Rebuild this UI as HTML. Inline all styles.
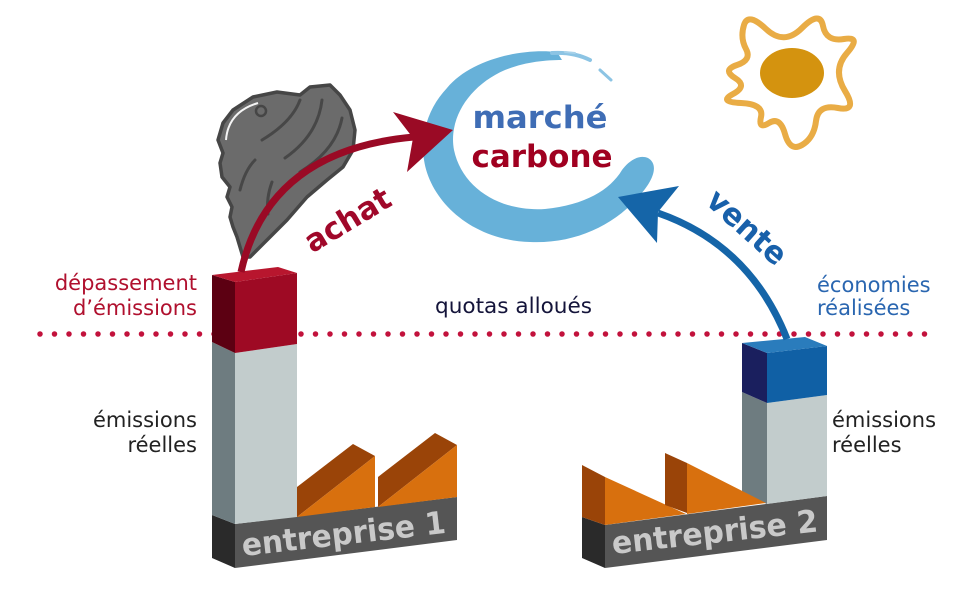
<!DOCTYPE html>
<html>
<head>
<meta charset="utf-8">
<style>
html,body{margin:0;padding:0;background:#fff}
svg{display:block}
.lbl{font-family:"DejaVu Sans","Liberation Sans",sans-serif;font-size:21px}
.bold{font-family:"DejaVu Sans","Liberation Sans",sans-serif;font-weight:bold}
</style>
</head>
<body>
<svg width="971" height="615" viewBox="0 0 971 615" xmlns="http://www.w3.org/2000/svg">
<rect width="971" height="615" fill="#fff"/>

<!-- dotted quota line -->
<line x1="40" y1="334" x2="926" y2="334" stroke="#c2123c" stroke-width="5.5" stroke-linecap="round" stroke-dasharray="0 14.5"/>

<!-- blue swirl (marché carbone) -->
<path d="M557,52 C520,48 470,60 447,88 C428,108 420,135 424,160 C430,200 470,240 530,242 C575,244 615,225 640,195 C652,182 660,165 648,158 C638,154 628,162 622,170 C610,190 585,205 545,209 C500,212 462,188 454,150 C448,118 470,85 505,70 C525,62 545,60 562,60 Z" fill="#67b1d9"/>
<path d="M552,53 C568,52 580,55 590,60" stroke="#8cc4e4" stroke-width="4" fill="none" stroke-linecap="round"/>
<path d="M600,70 L611,80" stroke="#8cc4e4" stroke-width="3" fill="none" stroke-linecap="round"/>
<path d="M565,52 L575,53" stroke="#a8d2ea" stroke-width="2" fill="none" stroke-linecap="round"/>

<!-- sun -->
<path d="M744,25 Q748,12 766,29 Q784,46 802,28 Q820,10 823,26 Q826,42 844,39 Q862,36 847,53 Q832,70 845,91 Q858,112 838,108 Q818,104 816,121 Q814,138 802,145 Q790,152 785,134 Q780,116 769,123 Q758,130 761,117 Q764,104 741,103 Q718,102 733,94 Q748,86 735,78 Q722,70 737,65 Q752,60 746,49 Q740,38 744,25 Z" fill="none" stroke="#e9ac45" stroke-width="6" stroke-linejoin="round"/>
<ellipse cx="792" cy="73" rx="32" ry="25" fill="#d4930f"/>

<!-- cloud -->
<path d="M233,110 L253,97 L277,92 L300,95 L310,87 L330,85 L340,95 L350,110 L355,130 L353,150 L343,167 L327,180 L307,197 L287,220 L267,240 L250,257 L243,257 L237,237 L233,227 L230,217 L232,207 L227,197 L230,187 L222,177 L220,163 L223,153 L218,140 L223,123 Z" fill="#6b6b6b" stroke="#464646" stroke-width="3.5" stroke-linejoin="round"/>
<path d="M226,140 Q228,112 258,103" stroke="#f4f4f4" stroke-width="2" fill="none"/>
<circle cx="261" cy="111" r="5" fill="#6b6b6b" stroke="#464646" stroke-width="2.5"/>
<g stroke="#474747" stroke-width="3" fill="none" stroke-linecap="round">
<path d="M300,100 Q292,122 262,140"/>
<path d="M322,100 Q318,135 285,158"/>
<path d="M342,118 Q336,150 300,172"/>
<path d="M272,182 Q266,198 268,214"/>
<path d="M255,160 Q245,170 240,190"/>
</g>

<!-- entreprise 1 -->
<polygon points="212,515 235,524 235,568 212,558" fill="#2a2a2a"/>
<polygon points="235,524 457,497 457,540 235,568" fill="#555555"/>
<polygon points="212,342 235,353 235,524 212,515" fill="#6e7c80"/>
<polygon points="235,353 297,344 297,517 235,524" fill="#c2cccc"/>
<polygon points="212,275 235,282 235,353 212,342" fill="#5c0012"/>
<polygon points="235,282 297,273 297,344 235,353" fill="#9e0a24"/>
<polygon points="212,275 278,267 297,273 235,282" fill="#b8162e"/>
<!-- roofs 1 -->
<polygon points="297,487 353,444 375,456 297,517" fill="#9a4408"/>
<polygon points="297,517 375,456 375,507" fill="#d8700e"/>
<polygon points="378,477 435,433 457,445 378,507" fill="#9a4408"/>
<polygon points="378,507 457,445 457,497" fill="#d8700e"/>
<text class="bold" x="243" y="556" font-size="31" fill="#c9c9c9" textLength="205" lengthAdjust="spacingAndGlyphs" transform="rotate(-6.5 243 556)">entreprise 1</text>

<!-- entreprise 2 -->
<polygon points="582,517 605,525 605,568 582,558" fill="#2a2a2a"/>
<polygon points="605,525 827,496 827,540 605,568" fill="#555555"/>
<polygon points="742,392 767,403 767,504 742,494" fill="#6e7c80"/>
<polygon points="767,403 827,395 827,496 767,504" fill="#c2cccc"/>
<polygon points="742,343 767,353 767,403 742,392" fill="#1a1f5e"/>
<polygon points="767,353 827,346 827,395 767,403" fill="#1060a5"/>
<polygon points="742,343 805,337 827,346 767,353" fill="#2a7cbc"/>
<!-- roofs 2 -->
<polygon points="582,465 605,477 605,525 582,517" fill="#9a4408"/>
<polygon points="605,477 686,514 605,525" fill="#d8700e"/>
<polygon points="665,453 687,463 687,513 665,505" fill="#9a4408"/>
<polygon points="687,463 766,503 687,514" fill="#d8700e"/>
<text class="bold" x="613" y="554" font-size="31" fill="#c9c9c9" textLength="207" lengthAdjust="spacingAndGlyphs" transform="rotate(-6.3 613 554)">entreprise 2</text>

<!-- red arrow (achat) -->
<path d="M241,272 Q268,150 414,137" stroke="#9a0a25" stroke-width="7" fill="none"/>
<polygon points="453,130 393,112 413,138 407,172" fill="#9a0a25"/>

<!-- blue arrow (vente) -->
<path d="M787,339 Q750,245 658,213" stroke="#1565a8" stroke-width="7" fill="none"/>
<polygon points="618,197 679,186 658,212 657,243" fill="#1565a8"/>

<!-- marché carbone -->
<text class="bold" x="540" y="128" font-size="31" fill="#3f6db5" text-anchor="middle" textLength="135" lengthAdjust="spacingAndGlyphs">marché</text>
<text class="bold" x="542" y="167" font-size="31" fill="#a00020" text-anchor="middle" textLength="141" lengthAdjust="spacingAndGlyphs">carbone</text>

<!-- achat / vente -->
<text class="bold" x="353" y="229" font-size="31" fill="#a0082a" text-anchor="middle" textLength="95" lengthAdjust="spacingAndGlyphs" transform="rotate(-31 353 229)">achat</text>
<text class="bold" x="740" y="235" font-size="31" fill="#1860aa" text-anchor="middle" textLength="96" lengthAdjust="spacingAndGlyphs" transform="rotate(42 740 235)">vente</text>

<!-- labels -->
<text class="lbl" x="197" y="290" fill="#b0102e" text-anchor="end">dépassement</text>
<text class="lbl" x="197" y="315" fill="#b0102e" text-anchor="end">d’émissions</text>
<text class="lbl" x="197" y="427" fill="#222" text-anchor="end">émissions</text>
<text class="lbl" x="197" y="452" fill="#222" text-anchor="end">réelles</text>
<text class="lbl" x="435" y="313" fill="#14143a" textLength="157" lengthAdjust="spacingAndGlyphs">quotas alloués</text>
<text class="lbl" x="817" y="292" fill="#2a66b0">économies</text>
<text class="lbl" x="817" y="315" fill="#2a66b0">réalisées</text>
<text class="lbl" x="832" y="427" fill="#222">émissions</text>
<text class="lbl" x="832" y="452" fill="#222">réelles</text>
</svg>
</body>
</html>
